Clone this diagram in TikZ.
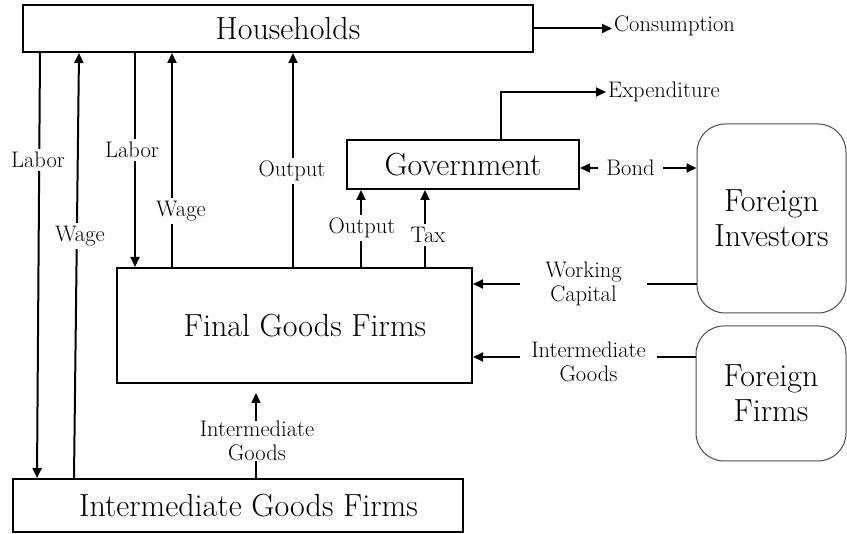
\documentclass[tikz,border=0pt]{standalone}
\usetikzlibrary{arrows.meta}
\newcommand\boxfont{\fontsize{32}{35}\selectfont}
\newcommand\lblfont{\fontsize{22.5}{24}\selectfont}
\begin{document}
\begin{tikzpicture}[x=1pt,y=-1pt,
  box/.style={draw, line width=2pt, inner sep=0pt, font=\boxfont},
  roundbox/.style={draw=black!70, line width=1pt, rounded corners=28pt,
    inner sep=0pt, align=center, font=\boxfont},
  tip/.tip={Triangle[length=10pt,width=9pt]},
  flow/.style={line width=2pt, -tip},
  lbl/.style={fill=white, inner sep=3pt, align=center, font=\lblfont},
  side/.style={inner sep=2pt, anchor=west, font=\lblfont},
]
\path[use as bounding box] (0,0) rectangle (847,534);

% sectors
\node[box, minimum width=510pt, minimum height=47pt] (hh) at (278,28.5) {\hspace*{20pt}Households};
\node[box, minimum width=232pt, minimum height=49pt] (gov) at (463,164.5) {Government};
\node[box, minimum width=355pt, minimum height=115pt] (fg) at (294.5,325.5) {\hspace*{21pt}Final Goods Firms};
\node[box, minimum width=450pt, minimum height=53pt] (ig) at (238,505.5) {\hspace*{21pt}Intermediate Goods Firms};
\node[roundbox, minimum width=149pt, minimum height=189pt] (fi) at (771.5,218.5) {Foreign\\Investors};
\node[roundbox, minimum width=150pt, minimum height=135pt] (ff) at (771,393.5) {Foreign\\Firms};

% households <-> intermediate goods firms
\draw[flow] ([xshift=18pt]hh.south west) -- ([xshift=25pt]ig.north west);
\draw[flow] ([xshift=62pt]ig.north west) -- ([xshift=57pt]hh.south west);
% households <-> final goods firms
\draw[flow] ([xshift=113pt]hh.south west) -- ([xshift=19pt]fg.north west);
\draw[flow] ([xshift=56pt]fg.north west) -- ([xshift=150pt]hh.south west);
\draw[flow] ([xshift=177pt]fg.north west) -- ([xshift=271pt]hh.south west);
% final goods firms -> government
\draw[flow] ([xshift=245pt]fg.north west) -- ([xshift=15pt]gov.south west);
\draw[flow] ([xshift=309pt]fg.north west) -- ([xshift=79pt]gov.south west);

\node[lbl] (lab1) at (38,160) {Labor};
\node[lbl] (wag1) at (80,236) {Wage};
\node[lbl] (lab2) at (132,150) {Labor};
\node[lbl] (wag2) at (181,211) {Wage};
\node[lbl] (out1) at (292,171) {Output};
\node[lbl] (out2) at (362,228) {Output};
\node[lbl] (tax) at (428,235) {Tax};

% outflows
\node[side] (cons) at (612,26) {Consumption};
\draw[flow] (hh.east) -- (hh.east -| cons.west);
\node[side] (expd) at (606,92) {Expenditure};
\draw[flow] ([xshift=155pt]gov.north west) |- (expd.west);

% government <-> foreign investors
\draw[line width=2pt, tip-tip] ([yshift=-3.5pt]gov.east) -- ([yshift=50.5pt]fi.west);
\node[lbl, inner xsep=0pt, minimum width=65pt] (bond) at (630.5,168) {Bond};

% foreign sector -> final goods firms
\draw[flow] ([yshift=-65.5pt]fi.west) -- ([yshift=41.5pt]fg.east);
\node[lbl, inner xsep=0pt, minimum width=127pt] (wcap) at (583.5,284) {Working\\Capital};
\draw[flow] ([yshift=36.5pt]ff.west) -- ([yshift=-31.5pt]fg.east);
\node[lbl, inner xsep=0pt, minimum width=137pt] (igr) at (588.5,362) {Intermediate\\Goods};

% intermediate goods firms -> final goods firms
\draw[flow, shorten >=9pt] ([xshift=244pt]ig.north west) -- ([xshift=140pt]fg.south west);
\node[lbl, inner sep=0pt] (igb) at (257,441) {Intermediate\\Goods};
\end{tikzpicture}
\end{document}
